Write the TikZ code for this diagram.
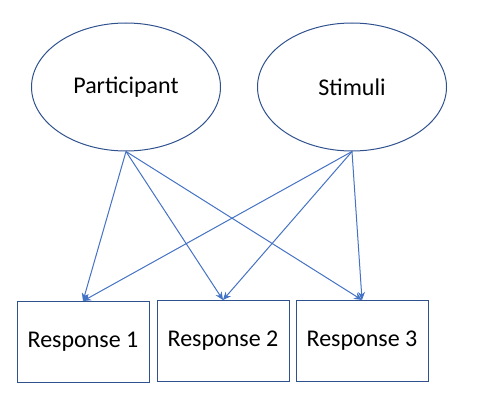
\documentclass[tikz,border=0pt]{standalone}
\usepackage{fontspec}
\setmainfont{Carlito}
\usepackage{tikz}
\usetikzlibrary{positioning,arrows.meta,shapes.geometric}
\definecolor{shapeblue}{HTML}{2F528F}
\definecolor{arrowblue}{HTML}{4472C4}

\begin{document}
\begin{tikzpicture}[x=0.5pt,y=0.5pt,>={Stealth[length=4pt,width=3.5pt]},line width=0.5pt]
  \tikzstyle{factor}=[ellipse,draw=shapeblue,minimum width=94.5pt,minimum height=64pt,inner sep=0pt,font=\fontsize{12}{14}\selectfont]
  \tikzstyle{response}=[rectangle,draw=shapeblue,minimum width=66pt,minimum height=40.5pt,inner sep=0pt,font=\fontsize{12}{14}\selectfont]
  \tikzstyle{link}=[->,draw=arrowblue]

  \useasboundingbox (0,0) rectangle (480,408);

  % factors
  \node[factor] (part) at (126,321) {Participant};
  \node[factor] (stim) at (352,321) {Stimuli};

  % responses
  \node[response] (r1) at (83,66) {Response 1};
  \node[response] (r2) at (223,67) {Response 2};
  \node[response] (r3) at (362,67) {Response 3};

  \foreach \src in {part,stim}
    \foreach \dst in {r1,r2,r3}
      \draw[link] (\src.south) -- (\dst.north);
\end{tikzpicture}
\end{document}
